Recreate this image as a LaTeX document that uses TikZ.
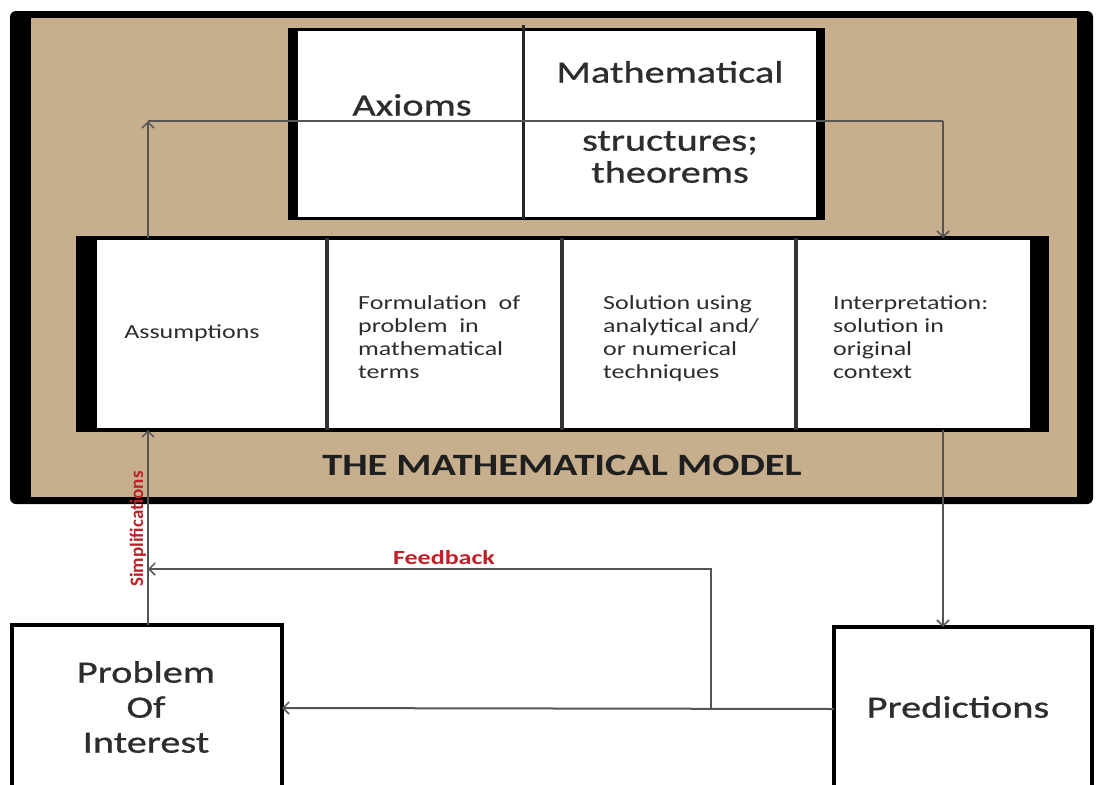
\documentclass[tikz,border=0pt]{standalone}
\usepackage{fontspec}
\setmainfont{Carlito}
\newfontfamily\wf[FakeStretch=1.3]{Carlito}
\newfontfamily\wfb[FakeStretch=1.3,FakeBold=0.8]{Carlito}
\usetikzlibrary{arrows.meta}
\definecolor{tanbg}{RGB}{199,174,140}
\definecolor{fbred}{RGB}{192,32,40}
\definecolor{conngray}{RGB}{85,85,85}
\definecolor{txtgray}{RGB}{45,45,45}
\begin{document}
\begin{tikzpicture}[x=1pt,y=-1pt,
  conn/.style={draw=conngray,line width=2pt},
  arr/.style={-{Straight Barb[length=6pt,width=12pt,line width=1.5pt]}},
  bigtxt/.style={font=\wfb\fontsize{31}{35}\selectfont, text=txtgray, align=center, inner sep=0pt},
  smalltxt/.style={font=\wf\fontsize{20}{23}\selectfont, text=txtgray, align=left, inner sep=0pt, anchor=north west},
  redlbl/.style={text=fbred, inner sep=0pt},
  whitebox/.style={draw=black, fill=white, inner sep=0pt, outer sep=0pt},
  divider/.style={draw=black!80, line width=4pt}
]
\useasboundingbox (0,0) rectangle (1096,785);
\clip (0,0) rectangle (1096,785);
\fill[white] (0,0) rectangle (1096,785);
% outer frame
\fill[black, rounded corners=6pt] (10,11) rectangle (1093,504);
\fill[tanbg] (31,18) rectangle (1077,497);

% top box: axioms / mathematical structures
\node[whitebox, line width=3pt, minimum width=534pt, minimum height=189pt] (axbox) at (556,123.5) {};
\fill[black] (axbox.north west) rectangle ++(9,189);
\fill[black] (axbox.north east) rectangle ++(-7,189);
\draw[line width=3pt, draw=black!85] (523,25) -- (523,219);
\node[bigtxt] (axioms) at (412,105) {Axioms};
\node[bigtxt] (mathtxt) at (670,72) {Mathematical};
\node[bigtxt, font=\wfb\fontsize{31}{32}\selectfont] (structtxt) at (670,157) {structures;\\theorems};

% lower box: the mathematical model
\node[whitebox, line width=4pt, minimum width=969pt, minimum height=192pt] (model) at (562.5,334) {};
\fill[black] (model.north west) rectangle ++(19,192);
\fill[black] (model.north east) rectangle ++(-17,192);
\foreach \x in {327,562,796} \draw[divider] (\x,238) -- (\x,430);
\node[font=\wf\fontsize{20}{23}\selectfont, text=txtgray, inner sep=0pt] (assumtxt) at (192,333) {Assumptions};
\node[smalltxt] (formtxt) at (358,295) {Formulation\ \ of\\problem\ \ in\\mathematical\\terms};
\node[smalltxt] (soltxt) at (603,295) {Solution using\\analytical and/\\or numerical\\techniques};
\node[smalltxt] (interptxt) at (833,295) {Interpretation:\\solution in\\original\\context};
\node[font=\wf\bfseries\fontsize{31}{32}\selectfont, text=black!88, inner sep=0pt] (title) at (562,465) {THE MATHEMATICAL MODEL};

% bottom boxes
\node[whitebox, line width=3.5pt, minimum width=270pt, minimum height=166pt, anchor=north west] (prob) at (12,625) {};
\node[bigtxt] (probtxt) at (146,707) {Problem\\Of\\Interest};
\node[whitebox, line width=4pt, minimum width=258pt, minimum height=164pt, anchor=north west] (pred) at (834,627) {};
\node[bigtxt] (predtxt) at (958,707) {Predictions};

% connectors
\coordinate (cL) at (148,121);
\coordinate (cR) at (943,121);
\coordinate (fb) at (711,708);
\coordinate (fbEnd) at (148,569);
\draw[conn, arr] (cL |- model.north) -- (cL);
\draw[conn] (cL) -- (cR);
\draw[conn, arr] (cR) -- (cR |- model.north);
\draw[conn, arr] (cR |- model.south) -- (cR |- pred.north);
\draw[conn, arr] (cL |- prob.north) -- (cL |- model.south);
\draw[conn, arr] (pred.west) -- (prob.east);
\draw[conn, arr] (fb) |- (fbEnd);

% labels
\node[redlbl, font=\wf\bfseries\fontsize{20}{22}\selectfont] (fbtxt) at (444,558) {Feedback};
\node[redlbl, font=\bfseries\fontsize{19}{21}\selectfont, rotate=90] (simptxt) at (138,529) {Simplifications};
\end{tikzpicture}
\end{document}
